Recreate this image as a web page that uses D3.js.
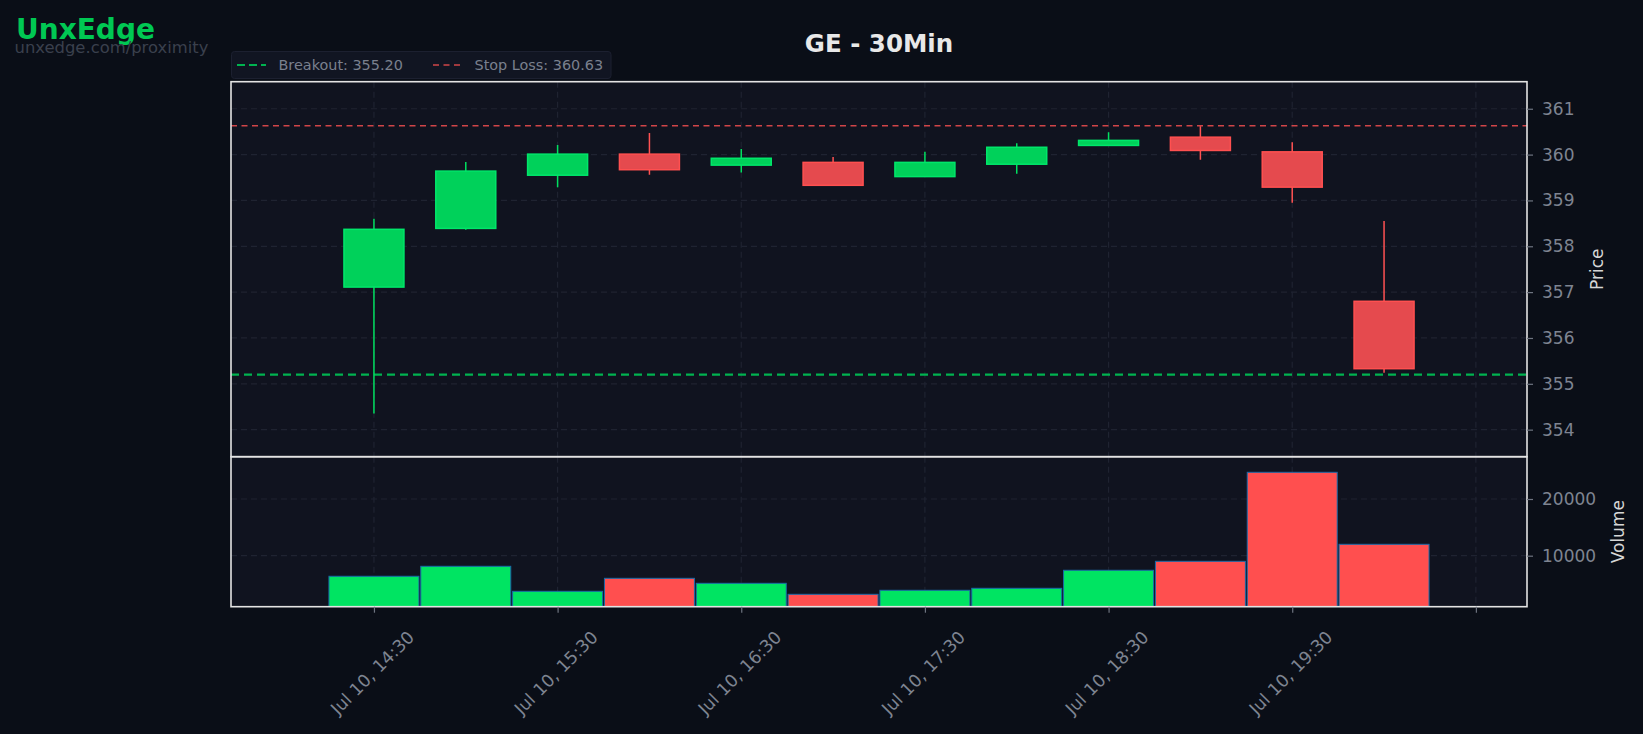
<!DOCTYPE html>
<html>
<head>
<meta charset="utf-8">
<script src="https://cdn.jsdelivr.net/npm/d3@7"></script>
<style>
  html, body { margin: 0; padding: 0; background: #0a0e17; }
  svg { display: block; }
  text { font-family: "DejaVu Sans", sans-serif; }
</style>
</head>
<body>
<svg id="chart" width="1643" height="734"></svg>
<script>
// ---- Data ----
const times  = ["2025-07-10T14:30","2025-07-10T15:00","2025-07-10T15:30","2025-07-10T16:00","2025-07-10T16:30","2025-07-10T17:00",
                "2025-07-10T17:30","2025-07-10T18:00","2025-07-10T18:30","2025-07-10T19:00","2025-07-10T19:30","2025-07-10T20:00"];
const opens  = [357.11, 358.39, 359.55, 360.01, 359.77, 359.83, 359.52, 359.79, 360.20, 360.38, 360.06, 356.80];
const highs  = [358.60, 359.84, 360.21, 360.47, 360.12, 359.95, 360.06, 360.25, 360.49, 360.62, 360.27, 358.55];
const lows   = [354.35, 358.36, 359.29, 359.56, 359.61, 359.33, 359.52, 359.58, 360.20, 359.89, 358.95, 355.24];
const closes = [358.37, 359.64, 360.01, 359.67, 359.92, 359.33, 359.83, 360.16, 360.31, 360.09, 359.29, 355.33];
const volumes = [6370, 8130, 3720, 6010, 5130, 3190, 3900, 4250, 7430, 9010, 24710, 12010];

const xTickTimes = ["2025-07-10T14:30","2025-07-10T15:30","2025-07-10T16:30","2025-07-10T17:30","2025-07-10T18:30","2025-07-10T19:30","2025-07-10T20:30"];
const xTickLabels = ["Jul 10, 14:30","Jul 10, 15:30","Jul 10, 16:30","Jul 10, 17:30","Jul 10, 18:30","Jul 10, 19:30",""];
const priceTicks = [354, 355, 356, 357, 358, 359, 360, 361];
const volumeTicks = [10000, 20000];
const breakout = 355.20;
const stopLoss = 360.63;
const titleText = "GE - 30Min";
const brandText = "UnxEdge";
const brandSub = "unxedge.com/proximity";

// ---- Layout ----
const L = 231, R = 1527;
const pTop = 81.7, pBot = 456.7, vTop = 456.7, vBot = 606.7;
const MIN = 60000;

const dates = times.map(t => new Date(t));
const x = d3.scaleTime()
  .domain([new Date(+dates[0] - 46.7 * MIN), new Date(+dates[dates.length - 1] + 46.7 * MIN)])
  .range([L, R]);
const yP = d3.scaleLinear().domain([353.41, 361.59]).range([pBot, pTop]);
const yV = d3.scaleLinear().domain([1005, 27460]).range([vBot, vTop]);

const svg = d3.select("#chart");
svg.append("rect").attr("width", 1643).attr("height", 734).attr("fill", "#0a0e17");

const gridColor = "#1f2331";
const tickTextColor = "#7e8491";

// panel backgrounds
svg.append("rect").attr("x", L).attr("y", pTop).attr("width", R - L).attr("height", pBot - pTop).attr("fill", "#10131f");
svg.append("rect").attr("x", L).attr("y", vTop).attr("width", R - L).attr("height", vBot - vTop).attr("fill", "#10131f");

// clip paths
const defs = svg.append("defs");
defs.append("clipPath").attr("id", "clipP").append("rect").attr("x", L).attr("y", pTop).attr("width", R - L).attr("height", pBot - pTop);
defs.append("clipPath").attr("id", "clipV").append("rect").attr("x", L).attr("y", vTop).attr("width", R - L).attr("height", vBot - vTop);

const tickDates = xTickTimes.map(t => new Date(t));

// grid - price panel
const gP = svg.append("g").attr("clip-path", "url(#clipP)");
gP.selectAll(".hg").data(priceTicks).enter().append("line")
  .attr("x1", L).attr("x2", R).attr("y1", d => yP(d)).attr("y2", d => yP(d))
  .attr("stroke", gridColor).attr("stroke-width", 1.2).attr("stroke-dasharray", "6,4");
gP.selectAll(".vg").data(tickDates).enter().append("line")
  .attr("x1", d => x(d)).attr("x2", d => x(d)).attr("y1", pTop).attr("y2", pBot)
  .attr("stroke", gridColor).attr("stroke-width", 1.2).attr("stroke-dasharray", "6,4");

// grid - volume panel
const gV = svg.append("g").attr("clip-path", "url(#clipV)");
gV.selectAll(".hg").data(volumeTicks).enter().append("line")
  .attr("x1", L).attr("x2", R).attr("y1", d => yV(d)).attr("y2", d => yV(d))
  .attr("stroke", gridColor).attr("stroke-width", 1.2).attr("stroke-dasharray", "6,4");
gV.selectAll(".vg").data(tickDates).enter().append("line")
  .attr("x1", d => x(d)).attr("x2", d => x(d)).attr("y1", vTop).attr("y2", vBot)
  .attr("stroke", gridColor).attr("stroke-width", 1.2).attr("stroke-dasharray", "6,4");

// reference lines
gP.append("line").attr("x1", L).attr("x2", R).attr("y1", yP(stopLoss)).attr("y2", yP(stopLoss))
  .attr("stroke", "#d04548").attr("stroke-width", 1.6).attr("stroke-dasharray", "6,4.5");
gP.append("line").attr("x1", L).attr("x2", R).attr("y1", yP(breakout)).attr("y2", yP(breakout))
  .attr("stroke", "#00b350").attr("stroke-width", 2.2).attr("stroke-dasharray", "8,5");

// candles
const candles = dates.map((d, i) => ({ d, o: opens[i], h: highs[i], l: lows[i], c: closes[i], up: closes[i] >= opens[i] }));
const bodyHalf = 9.8 * MIN;
const cg = gP.selectAll(".candle").data(candles).enter().append("g");
cg.append("line")
  .attr("x1", d => x(d.d)).attr("x2", d => x(d.d))
  .attr("y1", d => yP(d.h)).attr("y2", d => yP(d.l))
  .attr("stroke", d => d.up ? "#00e060" : "#ff5252").attr("stroke-width", 1.5);
cg.append("rect")
  .attr("x", d => x(new Date(+d.d - bodyHalf)))
  .attr("width", d => x(new Date(+d.d + bodyHalf)) - x(new Date(+d.d - bodyHalf)))
  .attr("y", d => yP(Math.max(d.o, d.c)))
  .attr("height", d => Math.max(1, yP(Math.min(d.o, d.c)) - yP(Math.max(d.o, d.c))))
  .attr("fill", d => d.up ? "#00d15a" : "#e54a4e")
  .attr("stroke", d => d.up ? "#00e66a" : "#ff5050").attr("stroke-width", 1.5);

// volume bars
const barHalf = 14.7 * MIN;
gV.selectAll(".vbar").data(candles.map((c, i) => ({ d: c.d, v: volumes[i], up: c.up }))).enter().append("rect")
  .attr("x", d => x(new Date(+d.d - barHalf)))
  .attr("width", d => x(new Date(+d.d + barHalf)) - x(new Date(+d.d - barHalf)))
  .attr("y", d => yV(d.v))
  .attr("height", d => yV(yV.domain()[0]) - yV(d.v) + 2)
  .attr("fill", d => d.up ? "#00e462" : "#ff4f4f")
  .attr("stroke", "#1a6aa8").attr("stroke-width", 1);

// panel borders
const borderColor = "#e4e4e4";
svg.append("rect").attr("x", L).attr("y", pTop).attr("width", R - L).attr("height", pBot - pTop)
  .attr("fill", "none").attr("stroke", borderColor).attr("stroke-width", 1.6);
svg.append("rect").attr("x", L).attr("y", vTop).attr("width", R - L).attr("height", vBot - vTop)
  .attr("fill", "none").attr("stroke", borderColor).attr("stroke-width", 1.6);

// right axes
const axP = svg.append("g").attr("transform", `translate(${R},0)`)
  .call(d3.axisRight(yP).tickValues(priceTicks).tickSize(6).tickPadding(9).tickFormat(d3.format("d")));
const axV = svg.append("g").attr("transform", `translate(${R},0)`)
  .call(d3.axisRight(yV).tickValues(volumeTicks).tickSize(6).tickPadding(9).tickFormat(d3.format("d")));
[axP, axV].forEach(ax => {
  ax.select(".domain").remove();
  ax.selectAll(".tick line").attr("stroke", "#6e7480").attr("stroke-width", 1.2);
  ax.selectAll(".tick text").attr("fill", tickTextColor).attr("font-size", 17).attr("font-family", "DejaVu Sans");
});

// bottom axis
const axX = svg.append("g").attr("transform", `translate(0,${vBot})`)
  .call(d3.axisBottom(x).tickValues(tickDates).tickSize(6).tickFormat((d, i) => xTickLabels[i]));
axX.select(".domain").remove();
axX.selectAll(".tick line").attr("stroke", "#6e7480").attr("stroke-width", 1.2);
axX.selectAll(".tick text")
  .attr("fill", tickTextColor).attr("font-size", 17.3).attr("font-family", "DejaVu Sans")
  .attr("text-anchor", "middle").attr("dominant-baseline", "central")
  .attr("y", 0).attr("dy", null)
  .attr("transform", "translate(-2,66) rotate(-45)");

// axis titles
svg.append("text").attr("transform", `translate(1603,${(pTop + pBot) / 2}) rotate(-90)`)
  .attr("text-anchor", "middle").attr("fill", "#d6d6d6").attr("font-size", 17).text("Price");
svg.append("text").attr("transform", `translate(1624,${(vTop + vBot) / 2}) rotate(-90)`)
  .attr("text-anchor", "middle").attr("fill", "#d6d6d6").attr("font-size", 17).text("Volume");

// title
svg.append("text").attr("x", (L + R) / 2).attr("y", 51.5).attr("text-anchor", "middle")
  .attr("fill", "#e8e8e8").attr("font-size", 24.5).attr("font-weight", "bold").text(titleText);

// brand
svg.append("text").attr("x", 16).attr("y", 38.5).attr("fill", "#00c853")
  .attr("font-size", 28).attr("font-weight", "bold").text(brandText);
svg.append("text").attr("x", 14.5).attr("y", 52.5).attr("fill", "#3a404d")
  .attr("font-size", 16.4).text(brandSub);

// legend
const lg = svg.append("g");
lg.append("rect").attr("x", 231.5).attr("y", 51.5).attr("width", 379.5).attr("height", 27).attr("rx", 3)
  .attr("fill", "#111522").attr("stroke", "#1c2030").attr("stroke-width", 1);
lg.append("line").attr("x1", 237).attr("x2", 266).attr("y1", 65).attr("y2", 65)
  .attr("stroke", "#00b350").attr("stroke-width", 2.2).attr("stroke-dasharray", "8,4");
lg.append("text").attr("x", 278.5).attr("y", 70).attr("fill", "#7a808e").attr("font-size", 14.4)
  .text("Breakout: " + breakout.toFixed(2));
lg.append("line").attr("x1", 433).attr("x2", 463).attr("y1", 65).attr("y2", 65)
  .attr("stroke", "#d04548").attr("stroke-width", 1.6).attr("stroke-dasharray", "6,4.5");
lg.append("text").attr("x", 474.5).attr("y", 70).attr("fill", "#7a808e").attr("font-size", 14.4)
  .text("Stop Loss: " + stopLoss.toFixed(2));
</script>
</body>
</html>
